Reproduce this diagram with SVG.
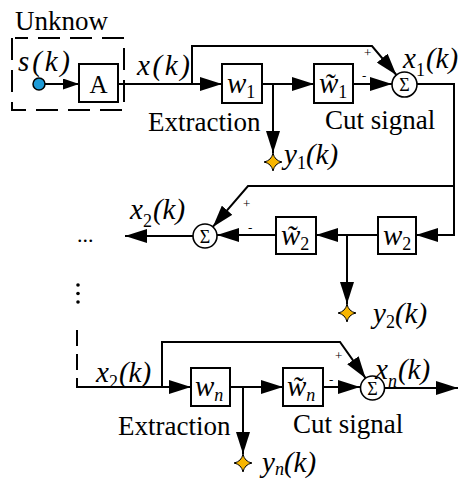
<svg xmlns="http://www.w3.org/2000/svg" width="463" height="481" viewBox="0 0 463 481">
<style>
.ln{fill:none;stroke:#000;stroke-width:2}
.bx{fill:#fff;stroke:#000;stroke-width:2}
.sm{fill:#fff;stroke:#000;stroke-width:1.6}
text{font-family:"Liberation Serif","Times New Roman",serif;fill:#000}
.lab{font-size:27px}
.m{font-size:29px;font-style:italic}
.sub{font-size:18px;font-style:normal}
.subi{font-size:18px;font-style:italic}
.sg{font-size:18px;text-anchor:middle}
.pm{font-size:13px}
.star{fill:#F7B500;stroke:#000;stroke-width:1}
</style>
<defs>
<marker id="ah" markerUnits="userSpaceOnUse" markerWidth="22" markerHeight="14" refX="22" refY="7" orient="auto"><path d="M0,0 L22,7 L0,14 z" fill="#000"/></marker>
<marker id="as" markerUnits="userSpaceOnUse" markerWidth="16" markerHeight="11" refX="16" refY="5.5" orient="auto"><path d="M0,0 L16,5.5 L0,11 z" fill="#000"/></marker>
<path id="st" d="M0,-9 Q1.5,-1.5 9,0 Q1.5,1.5 0,9 Q-1.5,1.5 -9,0 Q-1.5,-1.5 0,-9 z"/>
</defs>

<g id="connectors">
<path class="ln" d="M12,38 V110 H124 V38 H15" stroke-dasharray="22 10"/>
<line class="ln" x1="45" y1="84" x2="79" y2="84" marker-end="url(#as)"/>
<line class="ln" x1="118" y1="84" x2="192" y2="84"/>
<line class="ln" x1="192" y1="84" x2="222" y2="84" marker-end="url(#ah)"/>
<path class="ln" d="M192,84 V46 H372 L396.4,75" marker-end="url(#ah)"/>
<line class="ln" x1="262" y1="84" x2="314" y2="84" marker-end="url(#ah)"/>
<line class="ln" x1="273" y1="84" x2="273" y2="153" marker-end="url(#ah)"/>
<line class="ln" x1="353" y1="84" x2="392" y2="84" marker-end="url(#ah)"/>
<path class="ln" d="M417,84 H454 V235 H416" marker-end="url(#ah)"/>
<path class="ln" d="M454,186 H248 L212.8,226.9" marker-end="url(#ah)"/>
<line class="ln" x1="378" y1="235" x2="316" y2="235" marker-end="url(#ah)"/>
<line class="ln" x1="347" y1="235" x2="347" y2="304" marker-end="url(#ah)"/>
<line class="ln" x1="276" y1="235" x2="217" y2="235" marker-end="url(#ah)"/>
<line class="ln" x1="193" y1="236" x2="125" y2="236" marker-end="url(#ah)"/>
<path class="ln" d="M77,330 V387" stroke-dasharray="16 8"/>
<line class="ln" x1="76" y1="387" x2="162" y2="387"/>
<line class="ln" x1="162" y1="387" x2="191" y2="387" marker-end="url(#ah)"/>
<path class="ln" d="M162,387 V342 H340 L365.6,378.2" marker-end="url(#ah)"/>
<line class="ln" x1="230" y1="387" x2="283" y2="387" marker-end="url(#ah)"/>
<line class="ln" x1="243" y1="387" x2="243" y2="454" marker-end="url(#ah)"/>
<line class="ln" x1="323" y1="387" x2="360" y2="387" marker-end="url(#ah)"/>
<line class="ln" x1="385" y1="388" x2="458" y2="388" marker-end="url(#ah)"/>
</g>

<g id="source">
<text class="lab" x="15" y="30">Unknow</text>
<text class="m" x="18" y="71" textLength="52">s(k)</text>
<circle cx="39" cy="84" r="6" fill="#1E9BD7" stroke="#000" stroke-width="1.5"/>
</g>
<g id="A"><rect class="bx" x="79" y="64" width="39" height="38"/><text x="98.5" y="93" font-size="25" text-anchor="middle">A</text></g>
<g id="xk"><text class="m" x="137" y="75" textLength="53">x(k)</text></g>

<g id="w1"><rect class="bx" x="222" y="64" width="40" height="39"/><text class="m" x="227" y="93" font-size="32">w<tspan class="sub" dy="5">1</tspan></text></g>
<g id="wt1"><rect class="bx" x="314" y="64" width="39" height="39"/><text class="m" x="319" y="93" font-size="32">w̃<tspan class="sub" dy="5">1</tspan></text></g>
<g id="sum1"><circle class="sm" cx="404.5" cy="84.5" r="12.5"/><text class="sg" x="404.5" y="91">Σ</text>
<text class="pm" x="364" y="57">+</text><text class="pm" x="362" y="80">-</text></g>
<g id="x1"><text class="m" x="403" y="68">x<tspan class="sub" dy="8">1</tspan><tspan dy="-8" dx="1">(k)</tspan></text></g>
<g id="ext1"><text class="lab" x="148" y="131">Extraction</text></g>
<g id="cut1"><text class="lab" x="325" y="129">Cut signal</text></g>
<g id="y1"><use href="#st" class="star" x="273" y="162"/><text class="m" x="284" y="164" font-size="26">y<tspan class="sub" font-size="15" dy="5">1</tspan><tspan dy="-5">(k)</tspan></text></g>

<g id="w2"><rect class="bx" x="378" y="217" width="38" height="37"/><text class="m" x="383" y="245" font-size="32">w<tspan class="sub" dy="5">2</tspan></text></g>
<g id="wt2"><rect class="bx" x="276" y="217" width="40" height="37"/><text class="m" x="281" y="245" font-size="32">w̃<tspan class="sub" dy="5">2</tspan></text></g>
<g id="sum2"><circle class="sm" cx="205" cy="236" r="12"/><text class="sg" x="205" y="242.5">Σ</text>
<text class="pm" x="243" y="208">+</text><text class="pm" x="248" y="232">-</text></g>
<g id="x2"><text class="m" x="130" y="219">x<tspan class="sub" dy="8">2</tspan><tspan dy="-8" dx="1">(k)</tspan></text></g>
<g id="y2"><use href="#st" class="star" x="347" y="313"/><text class="m" x="373" y="323" font-size="26">y<tspan class="sub" font-size="15" dy="5">2</tspan><tspan dy="-5">(k)</tspan></text></g>
<g id="dots"><text x="77" y="242" font-size="22">...</text>
<circle cx="78" cy="285" r="1.8"/><circle cx="78" cy="293.5" r="1.8"/><circle cx="78" cy="302" r="1.8"/></g>

<g id="x2b"><text class="m" x="96" y="382" font-size="24">x<tspan class="sub" font-size="15" dy="6">2</tspan><tspan dy="-6" dx="1">(k)</tspan></text></g>
<g id="wn"><rect class="bx" x="191" y="368" width="39" height="38"/><text class="m" x="195" y="396" font-size="32">w<tspan class="subi" dy="5">n</tspan></text></g>
<g id="wtn"><rect class="bx" x="283" y="368" width="40" height="38"/><text class="m" x="287" y="396" font-size="32">w̃<tspan class="subi" dy="5">n</tspan></text></g>
<g id="sumn"><circle class="sm" cx="372.5" cy="388" r="12"/><text class="sg" x="372.5" y="394.5">Σ</text>
<text class="pm" x="335" y="360">+</text><text class="pm" x="329" y="384">-</text></g>
<g id="xn"><text class="m" x="375" y="379">x<tspan class="subi" dy="8">n</tspan><tspan dy="-8" dx="1">(k)</tspan></text></g>
<g id="extn"><text class="lab" x="118" y="435">Extraction</text></g>
<g id="cutn"><text class="lab" x="293" y="433">Cut signal</text></g>
<g id="yn"><use href="#st" class="star" x="243" y="463"/><text class="m" x="262" y="472" font-size="25">y<tspan class="subi" font-size="15" dy="3">n</tspan><tspan dy="-3">(k)</tspan></text></g>
</svg>
